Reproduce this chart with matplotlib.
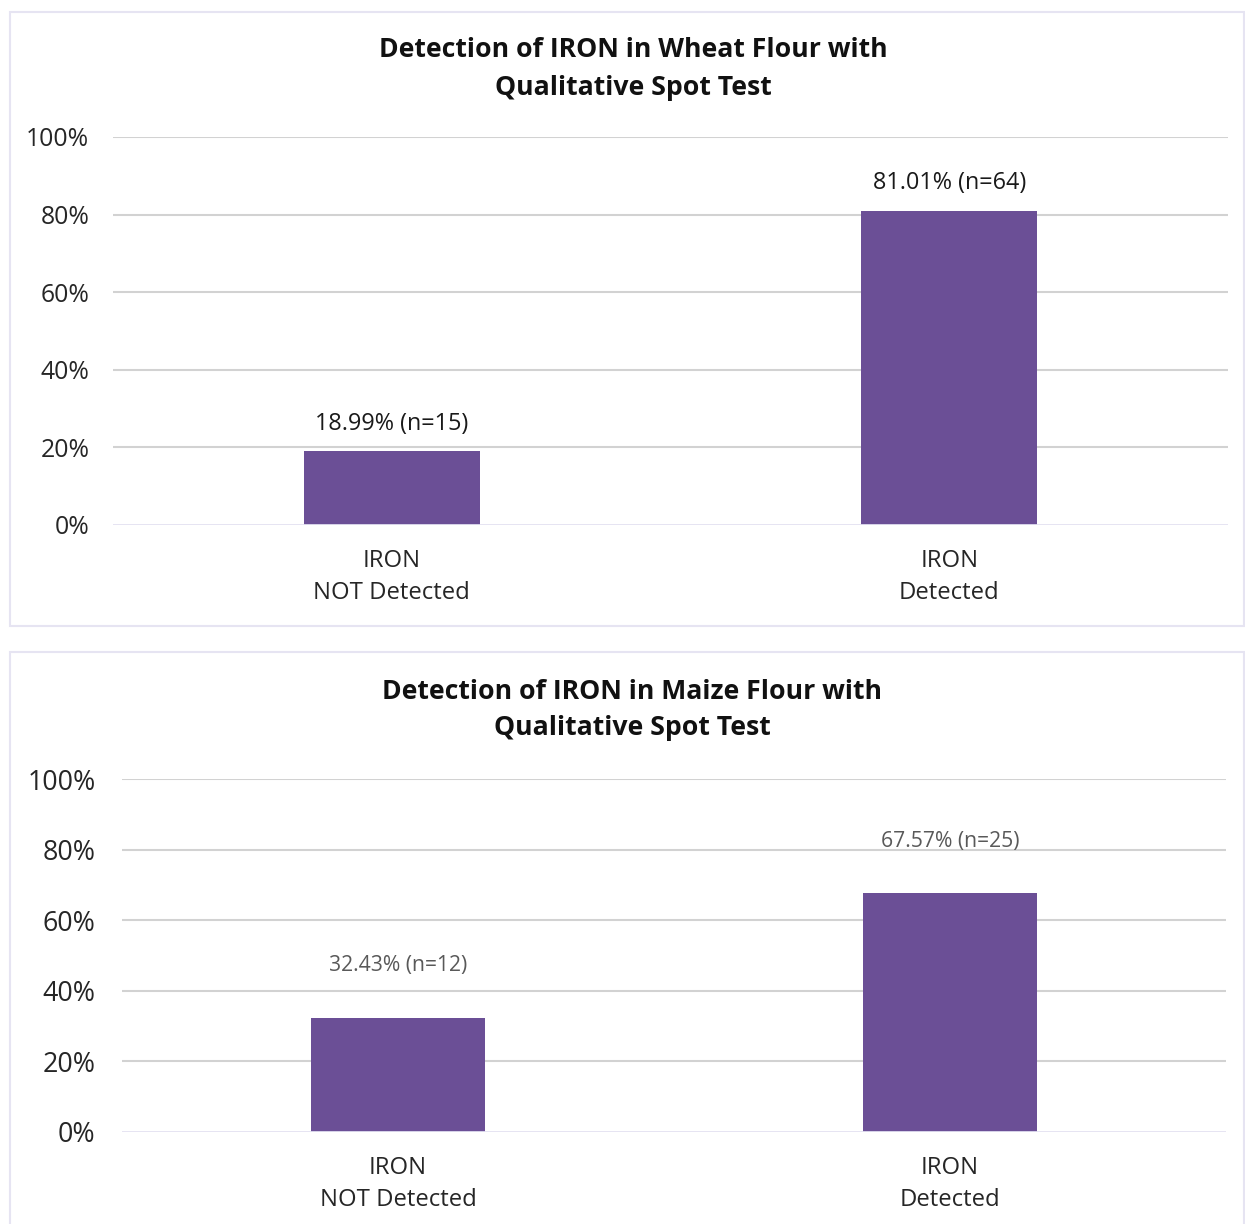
import matplotlib
matplotlib.use("Agg")
import matplotlib.pyplot as plt
from matplotlib.patches import Rectangle

plt.rcParams['font.family'] = ['Open Sans', 'DejaVu Sans']

categories = ["IRON\nNOT Detected", "IRON\nDetected"]
wheat_pct = [18.99, 81.01]
wheat_n = [15, 64]
maize_pct = [32.43, 67.57]
maize_n = [12, 25]
yticks = [0, 20, 40, 60, 80, 100]

bar_color = '#6b4f96'
grid_color = '#d2d2d2'
zero_color = '#e3e1f1'
frame_color = '#e6e4f2'

W, H = 1245, 1224
fig = plt.figure(figsize=(W / 100, H / 100), dpi=100)


def px_axes(left, top, right, bottom):
    return fig.add_axes([left / W, 1 - bottom / H, (right - left) / W, (bottom - top) / H])


# panel frames
for (x0, y0, x1, y1) in [(10, 12, 1244, 626), (10, 652, 1244, 1226)]:
    fig.patches.append(Rectangle((x0 / W, 1 - y1 / H), (x1 - x0) / W, (y1 - y0) / H,
                                 transform=fig.transFigure, fill=False,
                                 edgecolor=frame_color, linewidth=1.5))


def draw(ax, pct, n, tick_size, tick_pad, lab_size, lab_color, lab_off, cat_pad):
    x = list(range(len(categories)))
    ax.bar(x, pct, width=0.315, color=bar_color, zorder=3)
    ax.set_xlim(-0.5, 1.5)
    ax.set_ylim(0, 100)
    ax.set_yticks(yticks)
    ax.set_yticklabels([f"{t}%" for t in yticks])
    ax.set_xticks(x)
    ax.set_xticklabels(categories, fontsize=17.2, color='#262626', linespacing=1.45)
    ax.tick_params(axis='x', length=0, pad=cat_pad)
    ax.tick_params(axis='y', length=0, pad=tick_pad, labelsize=tick_size, labelcolor='#262626')
    for s in ax.spines.values():
        s.set_visible(False)
    for t in yticks[1:]:
        ax.axhline(t, color=grid_color, linewidth=1.5, zorder=1)
    ax.axhline(0, color=zero_color, linewidth=2, zorder=4)
    for xi, p, k in zip(x, pct, n):
        ax.annotate(f"{p:.2f}% (n={k})", (xi, p), xytext=(0, lab_off), textcoords='offset points',
                    ha='center', va='center', fontsize=lab_size, color=lab_color)


ax1 = px_axes(113, 137, 1228, 525)
draw(ax1, wheat_pct, wheat_n, 17.8, 17, 16.8, '#1a1a1a', 20, 17)

ax2 = px_axes(122, 779, 1226, 1132)
draw(ax2, maize_pct, maize_n, 19.3, 19, 15.2, '#595959', 37.5, 17)

fig.text(633 / W, 1 - 69 / H, "Detection of IRON in Wheat Flour with\nQualitative Spot Test",
         ha='center', va='center', fontsize=19.2, fontweight='bold', color='#111111', linespacing=1.58)
fig.text(632 / W, 1 - 710 / H, "Detection of IRON in Maize Flour with\nQualitative Spot Test",
         ha='center', va='center', fontsize=19.2, fontweight='bold', color='#111111', linespacing=1.48)

fig.savefig("out.png", dpi=100)
